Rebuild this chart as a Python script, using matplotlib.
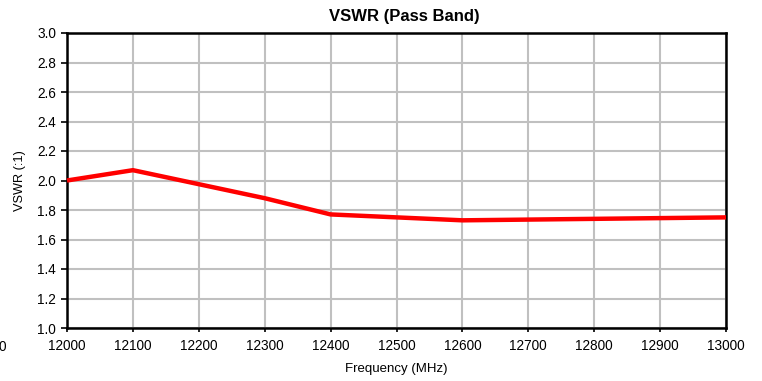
import matplotlib
matplotlib.use("Agg")
import matplotlib.pyplot as plt

freq = [12000, 12100, 12200, 12300, 12400, 12500, 12600, 12700, 12800, 12900, 13000]
vswr = [2.00, 2.07, 1.975, 1.88, 1.77, 1.75, 1.73, 1.735, 1.74, 1.745, 1.75]
x_ticks = list(range(12000, 13001, 100))
y_ticks = [1.0, 1.2, 1.4, 1.6, 1.8, 2.0, 2.2, 2.4, 2.6, 2.8, 3.0]

plt.rcParams['font.family'] = ['Liberation Sans', 'DejaVu Sans']

fig = plt.figure(figsize=(7.62, 3.81), dpi=100)
ax = fig.add_axes([67/762, 1-328/381, (726-67)/762, (328-33)/381])

ax.plot(freq, vswr, color='#ff0000', lw=3.2, solid_capstyle='butt', zorder=3, clip_on=False)
ax.set_xlim(12000, 13000)
ax.set_ylim(1.0, 3.0)
ax.set_xticks(x_ticks)
ax.set_yticks(y_ticks)
ax.set_yticklabels([f"{v:.1f}" for v in y_ticks])
ax.grid(True, color='#c0c0c0', lw=1.5)
ax.set_axisbelow(True)
for s in ax.spines.values():
    s.set_color('black')
    s.set_linewidth(1.8)
ax.tick_params(axis='both', labelsize=9.8, direction='out', length=4, width=1.2, color='black')
ax.tick_params(axis='x', pad=5, length=3)
ax.tick_params(axis='y', pad=4)
ax.set_title("VSWR (Pass Band)", fontsize=12, fontweight='bold', pad=9, x=(404-67)/659)
ax.set_xlabel("Frequency (MHz)", fontsize=9.5, labelpad=7)
ax.set_ylabel("VSWR (:1)", fontsize=9.2, labelpad=8)
fig.text(2/762, 1-347/381, "0", fontsize=9.8, ha='center', va='center')

fig.savefig("out.png", dpi=100)
